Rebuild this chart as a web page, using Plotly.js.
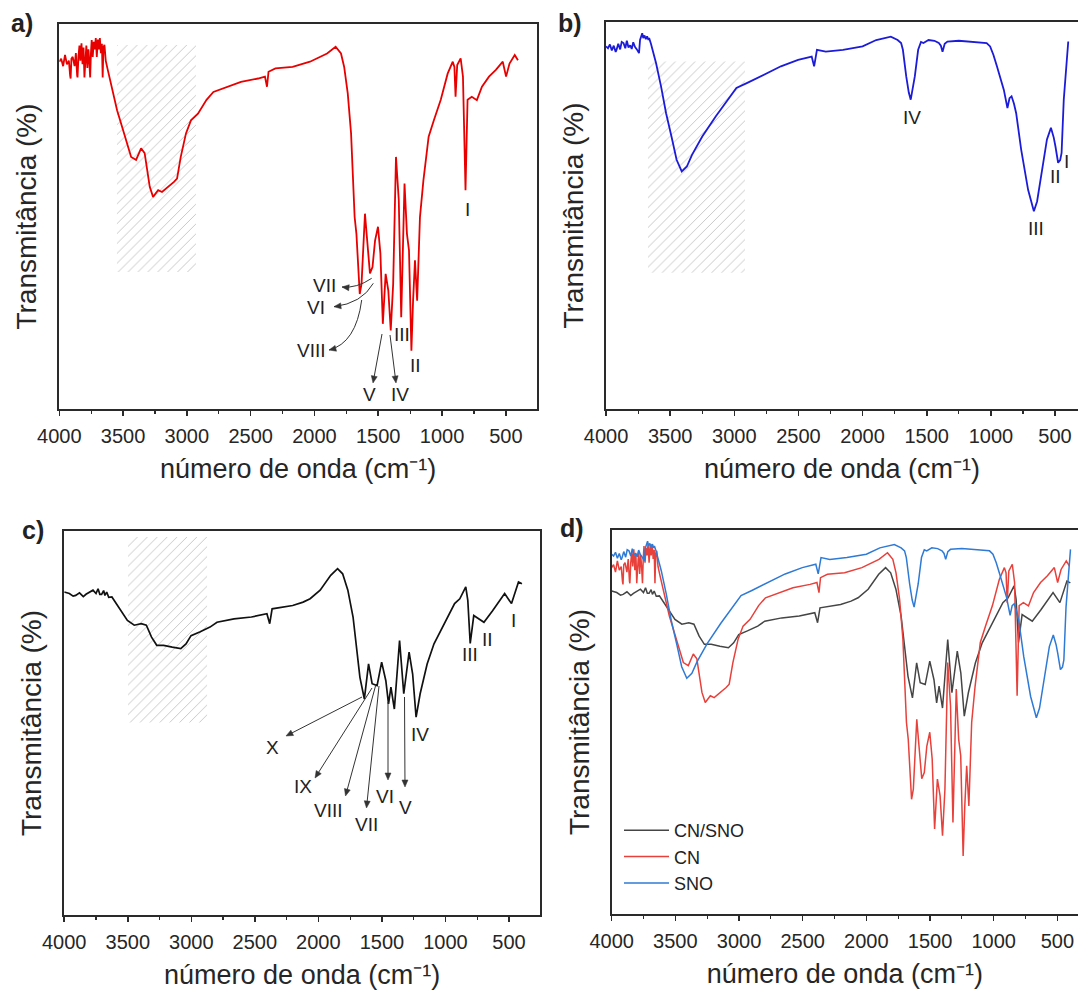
<!DOCTYPE html>
<html><head><meta charset="utf-8">
<script src="https://cdn.plot.ly/plotly-3.0.1.min.js"></script>
<style>html,body{margin:0;padding:0;background:#fff}</style>
</head><body>
<div id="chart" style="width:1078px;height:991px"></div>
<script>
// ---------- DATA (wavenumber in cm-1, transmittance in arbitrary units) ----------
const cnWavenumber = [4000,3985,3970,3955,3940,3925,3915,3911,3905,3895,3880,3870,3860,3857,3850,3842,3835,3826,3818,3810,3803,3796,3788,3780,3772,3765,3758,3752,3746,3738,3730,3722,3714,3706,3698,3690,3682,3674,3666,3660,3654,3646,3636,3620,3602,3547,3492,3437,3398,3359,3331,3291,3265,3225,3195,3143,3101,3077,3048,3007,2968,2913,2846,2792,2711,2576,2442,2388,2372,2360,2306,2171,2035,1901,1834,1792,1767,1739,1713,1685,1671,1645,1631,1604,1591,1565,1545,1525,1502,1483,1464,1442,1421,1402,1383,1361,1339,1320,1294,1275,1259,1240,1227,1212,1195,1173,1146,1105,1064,1010,956,916,903,894,881,854,836,816,800,767,727,687,632,578,524,498,471,430,405];
const cnTransmittance = [89.7,90.5,88.5,91.5,89,90,86,85.2,90.5,91,88.5,92,86,85.5,91,94,90,94.6,89,93.5,85.5,92,94,88,93,90,85.5,92,95.5,91,95,93,96,91,95.6,93,96,92,94.5,85.5,93.5,94.2,90,87.5,84.8,76.7,70.5,64.2,63.4,66.5,65.2,56.2,53.5,55.3,54.8,56.2,57.5,58.4,64.2,70.5,74.0,75.8,79.5,81.6,82.6,84.3,85.2,85.7,83.0,87.0,87.9,88.3,89.7,91.9,93.7,91.9,88.3,81.2,70.5,48.1,43.6,27.5,30.2,49.0,43.6,33.0,34.7,41.8,45.5,38.3,19.5,32.9,28.4,17.7,30.2,64.2,52.6,21.3,57.1,43.6,39.2,12.3,25.7,36.5,25.7,48.1,57.9,69.6,74.0,79.5,86.5,89.7,88.3,80.3,88.8,90.6,85.7,55.3,79.5,80.3,79.4,83.0,85.7,87.5,89.7,85.7,89.2,91.5,90.1];

const snoWavenumber = [4000,3985,3970,3955,3940,3925,3918,3905,3890,3878,3864,3850,3838,3825,3812,3800,3788,3775,3760,3750,3743,3735,3725,3718,3710,3700,3690,3680,3670,3664,3650,3637,3610,3571,3532,3490,3450,3410,3370,3330,3250,3144,3050,2984,2903,2770,2637,2503,2397,2378,2356,2287,2153,2000,1894,1780,1750,1727,1700,1686,1660,1640,1625,1610,1593,1567,1545,1526,1486,1440,1406,1390,1377,1360,1339,1250,1166,1080,1033,1006,980,953,925,899,871,855,839,820,803,764,710,665,640,617,563,532,510,497,476,460,449,432,397];
const snoTransmittance = [93.3,92.8,93.8,92.2,93.5,91.8,92.4,94,92.5,94.5,94.2,92.8,94.8,93,93.6,92.6,94.4,93.2,92.5,91.8,91.5,95,96.5,96.8,95.5,96.2,95.2,96,95,95.5,94,92.4,88.8,82.6,75.5,69.3,63.1,60.0,61.3,64.4,69.3,74.7,79.1,82.2,83.5,85.7,88.0,89.7,90.6,88.0,92.4,91.9,92.4,93.3,95.0,95.9,95.3,95.0,94.2,92.4,85.3,81,79.1,82,85.3,92.4,94.5,94.2,95.0,94.8,94.2,93.5,91.9,94,94.6,94.8,94.6,94.5,94.2,93.3,91,88.0,85,81.7,76.9,79.5,80.0,78,75.5,65.8,55.1,49.4,52,56.9,68.5,71.6,69,66.7,62.3,63,64.9,79.1,94.6];

const cnsnoWavenumber = [4000,3960,3930,3910,3880,3850,3829,3800,3774,3750,3734,3720,3706,3690,3680,3666,3650,3625,3571,3503,3449,3394,3354,3313,3272,3218,3150,3083,3042,3002,2934,2853,2798,2664,2527,2405,2383,2364,2202,2120,2065,1986,1903,1849,1809,1768,1727,1700,1673,1638,1605,1577,1538,1502,1469,1448,1429,1402,1361,1328,1286,1258,1231,1199,1144,1090,1009,928,887,840,824,805,777,738,697,629,534,480,425,398];
const cnsnoTransmittance = [83.4,83.0,82.3,82.5,83.2,82.2,82.8,83.5,83.9,83.0,84.3,82.8,82.8,83.8,82.5,83.4,82.0,82.1,79.4,75.8,74.5,74.9,74.5,71.3,69.1,69.1,68.6,68.2,69.5,71.7,72.7,74.0,75.3,76.2,76.7,77.6,74.9,78.9,79.8,80.7,81.6,83.9,87.9,89.7,88.3,83.9,76.7,68.6,60.5,54.7,64.1,58.8,58.3,64.6,59.6,53.4,57.9,52.0,70.4,56.1,67.3,61.4,49.8,56.1,64.1,69.5,74.9,80.3,81.6,84.8,81.2,69.6,77.1,76.2,75.3,78.4,83.0,80.3,86.1,85.6];

// hatched O-H band regions: [wavenumber start, wavenumber end], [transmittance low, high]
const hatchBandA = [3548, 2929], hatchLevelA = [33.4, 94.2];
const hatchBandB = [3673, 2917], hatchLevelB = [33.0, 89.3];
const hatchBandC = [3498, 2876], hatchLevelC = [48.4, 98.2];

const seriesNames = ['CN/SNO', 'CN', 'SNO'];
const xTitle = 'número de onda (cm⁻¹)';
const yTitle = 'Transmitância (%)';

// ---------- helpers ----------
const W = 1078, H = 991;
const FONT = 'Liberation Sans, Arial, Helvetica, sans-serif';
const INK = '#2a2a2a';
const px = x => x / W, py = y => 1 - y / H;

function hatch(band, level, xa, ya) {
  return {x: [band[0], band[1], band[1], band[0], band[0]],
          y: [level[0], level[0], level[1], level[1], level[0]],
          xaxis: xa, yaxis: ya, mode: 'lines', fill: 'toself',
          line: {width: 0, color: 'rgba(0,0,0,0)'},
          fillcolor: 'rgba(255,255,255,0)',
          fillpattern: {shape: '/', fgcolor: '#c8c8c8', bgcolor: 'rgba(255,255,255,0)', size: 7, solidity: 0.14},
          hoverinfo: 'skip', showlegend: false};
}
function curve(x, y, color, width, xa, ya, name, legend) {
  return {x, y, xaxis: xa, yaxis: ya, mode: 'lines', name,
          line: {color, width, shape: 'linear'}, showlegend: legend, hoverinfo: 'skip'};
}
function xAx(domain, range, anchor) {
  return {domain, range, anchor, showline: true, linecolor: INK, linewidth: 2, mirror: true,
          ticks: 'outside', ticklen: 5, tickwidth: 1.5, tickcolor: INK, dtick: 500, tick0: 0,
          ticklabelstandoff: 3,
          tickfont: {family: FONT, size: 20, color: '#262626'},
          minor: {ticks: 'outside', ticklen: 3, dtick: 250, tickcolor: INK, tickwidth: 1.2},
          showgrid: false, zeroline: false,
          title: {text: xTitle, font: {family: FONT, size: 27, color: '#262626'}, standoff: 13}};
}
function yAx(domain, anchor, mirror) {
  return {domain, range: [-3.3, 99.8], anchor, showline: true, linecolor: INK, linewidth: 2, mirror,
          ticks: '', showticklabels: false, showgrid: false, zeroline: false,
          title: {text: yTitle, font: {family: FONT, size: 28, color: '#262626'}, standoff: 12}};
}

const traces = [
  hatch(hatchBandA, hatchLevelA, 'x', 'y'),
  hatch(hatchBandB, hatchLevelB, 'x2', 'y2'),
  hatch(hatchBandC, hatchLevelC, 'x3', 'y3'),
  curve(cnWavenumber, cnTransmittance, '#e80000', 1.8, 'x', 'y', 'CN', false),
  curve(snoWavenumber, snoTransmittance, '#1c1cd8', 1.8, 'x2', 'y2', 'SNO', false),
  curve(cnsnoWavenumber, cnsnoTransmittance, '#111111', 1.7, 'x3', 'y3', 'CN/SNO', false),
  curve(cnsnoWavenumber, cnsnoTransmittance, '#454545', 1.5, 'x4', 'y4', seriesNames[0], true),
  curve(cnWavenumber, cnTransmittance, '#e8403a', 1.5, 'x4', 'y4', seriesNames[1], true),
  curve(snoWavenumber, snoTransmittance, '#2f7ad4', 1.5, 'x4', 'y4', seriesNames[2], true)
];

// ---------- annotations (labels) ----------
const annotations = [];
function label(text, x, y, size, weight) {
  annotations.push({text, x: px(x), y: py(y), xref: 'paper', yref: 'paper', showarrow: false,
                    xanchor: 'center', yanchor: 'middle',
                    font: {family: FONT, size: size || 19, color: '#222', weight: weight || 'normal'}});
}
// panel letters
label('a)', 21.5, 23.5, 25, 'bold');
label('b)', 570, 23.5, 25, 'bold');
label('c)', 33, 530, 25, 'bold');
label('d)', 572, 527.5, 25, 'bold');

// panel a labels
label('VII', 324, 285); label('VI', 316, 307.5); label('VIII', 311, 350.5);
label('V', 369, 395); label('IV', 400, 395); label('III', 402, 334);
label('II', 415, 366); label('I', 467, 210);

// panel b labels
label('IV', 912, 117.5); label('III', 1036, 228); label('II', 1055, 176); label('I', 1066, 161.5);

// panel c labels
label('X', 273, 747.5); label('IX', 303, 786); label('VIII', 328, 810); label('VII', 366, 824);
label('VI', 385, 796); label('V', 405.5, 807); label('IV', 420, 734); label('III', 470, 654);
label('II', 487, 639); label('I', 513, 620);

// ---------- arrows as shapes ----------
const shapes = [];
const ARROW = '#333';
function head(hx, hy, dx, dy) {
  const L = Math.hypot(dx, dy), ux = dx / L, uy = dy / L;
  const len = 7, half = 3;
  const bx = hx - ux * len, by = hy - uy * len;
  const p1x = bx - uy * half, p1y = by + ux * half;
  const p2x = bx + uy * half, p2y = by - ux * half;
  shapes.push({type: 'path', xref: 'paper', yref: 'paper',
               path: `M ${px(hx)} ${py(hy)} L ${px(p1x)} ${py(p1y)} L ${px(p2x)} ${py(p2y)} Z`,
               fillcolor: ARROW, line: {color: ARROW, width: 0.5}});
  return [bx, by];
}
function straightArrow(tx, ty, hx, hy) {
  const b = head(hx, hy, hx - tx, hy - ty);
  shapes.push({type: 'line', xref: 'paper', yref: 'paper',
               x0: px(tx), y0: py(ty), x1: px(b[0] + (hx - b[0]) * 0.3), y1: py(b[1] + (hy - b[1]) * 0.3),
               line: {color: ARROW, width: 1}});
}
function curvedArrow(x0, y0, cx, cy, x1, y1) {
  head(x1, y1, x1 - cx, y1 - cy);
  shapes.push({type: 'path', xref: 'paper', yref: 'paper',
               path: `M ${px(x0)} ${py(y0)} Q ${px(cx)} ${py(cy)} ${px(x1)} ${py(y1)}`,
               line: {color: ARROW, width: 1}});
}
// panel a
curvedArrow(371.7, 278.3, 356.7, 288.5, 342, 287);
curvedArrow(373.3, 283.3, 362, 303.3, 334, 306.7);
curvedArrow(361.7, 300, 356, 343.3, 329, 350);
straightArrow(382, 334, 373, 383);
straightArrow(390, 335, 396, 383);
// panel c
straightArrow(362, 697, 286, 736);
straightArrow(372, 688, 315, 778);
straightArrow(375.5, 686, 345.5, 796);
straightArrow(379, 686, 366.5, 808);
straightArrow(388, 702, 388, 780);
straightArrow(404.5, 697, 405, 787);

const layout = {
  width: W, height: H, margin: {l: 0, r: 0, t: 0, b: 0},
  paper_bgcolor: '#fff', plot_bgcolor: 'rgba(0,0,0,0)',
  font: {family: FONT, color: '#222'},
  showlegend: true,
  legend: {x: px(619), y: py(812), xanchor: 'left', yanchor: 'top', bgcolor: 'rgba(0,0,0,0)',
           font: {family: FONT, size: 18, color: '#222'}, itemwidth: 45, tracegroupgap: 0},
  xaxis: xAx([0.0550, 0.4981], [4000, 256], 'y'),
  yaxis: yAx([0.5873, 0.9758], 'x', true),
  xaxis2: xAx([0.5622, 1], [4000, 321], 'y2'),
  yaxis2: yAx([0.5873, 0.9778], 'x2', false),
  xaxis3: xAx([0.0596, 0.5009], [4000, 256], 'y3'),
  yaxis3: yAx([0.0767, 0.4642], 'x3', true),
  xaxis4: xAx([0.5674, 1], [4000, 338], 'y4'),
  yaxis4: yAx([0.0777, 0.4652], 'x4', false),
  annotations, shapes, hovermode: false
};

Plotly.newPlot('chart', traces, layout, {staticPlot: true, displayModeBar: false});
</script>
</body></html>
